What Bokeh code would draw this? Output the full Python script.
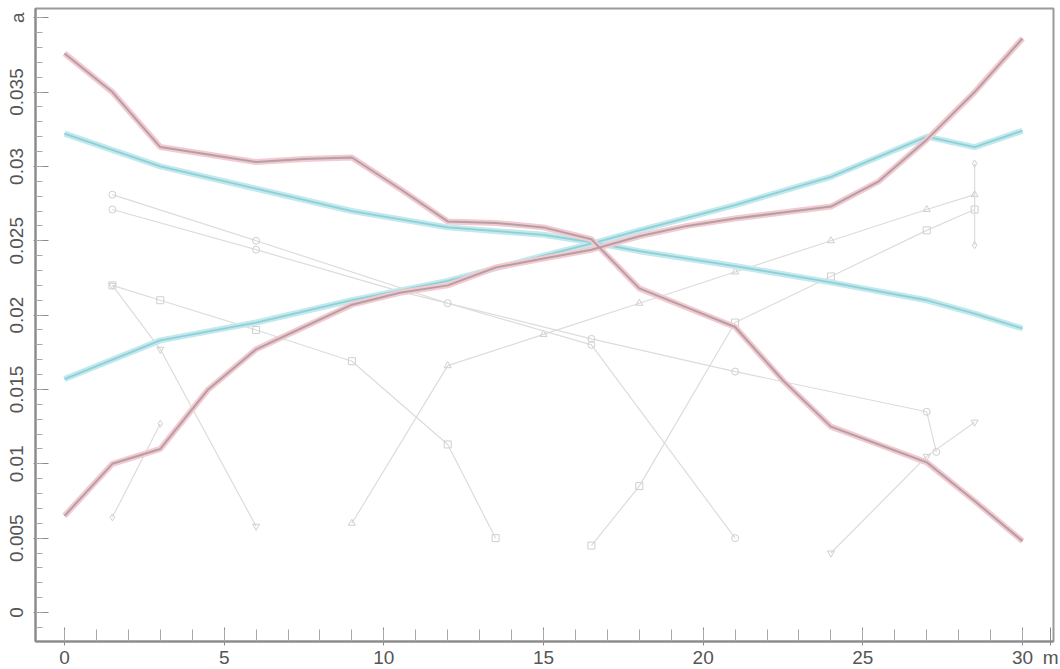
from bokeh.plotting import figure
from bokeh.models import Range1d, SingleIntervalTicker, FixedTicker, CustomJSTickFormatter
from bokeh.embed import file_html
from bokeh.resources import INLINE

# ---- data ----
x_pos = [0, 1.5, 3, 4.5, 6, 7.5, 9, 10.5, 12, 13.5, 15, 16.5, 18, 19.5, 21, 22.5, 24, 25.5, 27, 28.5, 30]

red_down = [0.0376, 0.0350, 0.0313, 0.0308, 0.0303, 0.0305, 0.0306, 0.0285, 0.0263, 0.0262, 0.0259,
            0.0251, 0.0218, 0.0205, 0.0192, 0.0156, 0.0125, 0.0113, 0.0101, 0.0075, 0.0048]
red_up = [0.0065, 0.0100, 0.0110, 0.0150, 0.0177, 0.0192, 0.0207, 0.0215, 0.0220, 0.0232, 0.0238,
          0.0244, 0.0253, 0.0260, 0.0265, 0.0269, 0.0273, 0.0290, 0.0318, 0.0350, 0.0386]

cyan_x = [0, 3, 6, 9, 12, 15, 16.5, 18, 21, 24, 27, 28.5, 30]
cyan_down = [0.0322, 0.0300, 0.0285, 0.0270, 0.0259, 0.0254, 0.0249, 0.0243, 0.0233, 0.0222, 0.0210, 0.0201, 0.0191]
cyan_up = [0.0157, 0.0183, 0.0195, 0.0210, 0.0223, 0.0240, 0.0248, 0.0257, 0.0274, 0.0293, 0.0320, 0.0313, 0.0324]

g1_x = [1.5, 6, 10.5, 16.5, 21, 27, 27.3]
g1_y = [0.0271, 0.0244, 0.0216, 0.0184, 0.0162, 0.0135, 0.0108]
g2_x = [1.5, 3, 6, 9, 12, 13.5]
g2_y = [0.0220, 0.0210, 0.0190, 0.0169, 0.0113, 0.0050]
g3_x = [1.5, 3, 6]
g3_y = [0.0220, 0.0177, 0.0058]
g4_x = [1.5, 3]
g4_y = [0.0064, 0.0127]
g5_x = [9, 12, 15, 18, 21, 24, 27, 28.5]
g5_y = [0.0060, 0.0166, 0.0187, 0.0208, 0.0229, 0.0250, 0.0271, 0.0281]
g6_x = [16.5, 18, 21, 24, 27, 28.5]
g6_y = [0.0045, 0.0085, 0.0195, 0.0226, 0.0257, 0.0271]
g7_x = [1.5, 6, 12, 16.5, 21]
g7_y = [0.0281, 0.0250, 0.0208, 0.0180, 0.0050]
g8_x = [24, 27, 28.5]
g8_y = [0.0040, 0.0105, 0.0128]
g9_x = [28.5, 28.5]
g9_y = [0.0302, 0.0247]

gray_series = [(g1_x, g1_y, "circle"), (g2_x, g2_y, "square"), (g3_x, g3_y, "inverted_triangle"),
               (g4_x, g4_y, "diamond"), (g5_x, g5_y, "triangle"), (g6_x, g6_y, "square"),
               (g7_x, g7_y, "circle"), (g8_x, g8_y, "inverted_triangle"), (g9_x, g9_y, "diamond")]

# tick positions; the last x tick carries the unit "m", the 0.04 y tick carries the unit "a"
x_major_ticks = [0, 5, 10, 15, 20, 25, 30, 30.88]
x_minor_ticks = list(range(0, 31))
x_unit = "m"
y_unit = "a"
y_ticks_interval = 0.005

FONT = "Liberation Sans"

p = figure(frame_width=1018, frame_height=633,
           x_range=Range1d(-0.908, 30.97), y_range=Range1d(-0.00195, 0.04062),
           output_backend="svg", toolbar_location=None,
           min_border_left=35, min_border_right=7, min_border_top=8, min_border_bottom=26,
           background_fill_color="white", border_fill_color="white")

p.xgrid.visible = False
p.ygrid.visible = False
p.outline_line_color = "#9a9a9a"
p.outline_line_width = 2

# gray load-case lines
for gx, gy, mk in gray_series:
    p.line(gx, gy, line_color="#dcdcdc", line_width=1.2)
    p.scatter(gx, gy, marker=mk, size=7, line_color="#cfcfcf", fill_color=None, line_width=1)

# envelope lines
p.line(cyan_x, cyan_down, line_color="#c2e9ed", line_width=6)
p.line(cyan_x, cyan_up, line_color="#c2e9ed", line_width=6)
p.line(cyan_x, cyan_down, line_color="#8fcfd6", line_width=1.8)
p.line(cyan_x, cyan_up, line_color="#8fcfd6", line_width=1.8)

p.line(x_pos, red_down, line_color="#f3cad1", line_width=6)
p.line(x_pos, red_up, line_color="#f3cad1", line_width=6)
p.line(x_pos, red_down, line_color="#b59fa3", line_width=2)
p.line(x_pos, red_up, line_color="#b59fa3", line_width=2)

# axes
xa = p.xaxis[0]
xa.ticker = FixedTicker(ticks=x_major_ticks, minor_ticks=x_minor_ticks)
xa.formatter = CustomJSTickFormatter(args=dict(unit=x_unit),
                                     code="return tick > 30.5 ? unit : String(Math.round(tick));")
xa.axis_line_color = "#8a8a8a"
xa.axis_line_width = 2
xa.major_tick_line_color = "#8a8a8a"
xa.major_tick_in = 14
xa.major_tick_out = 4
xa.minor_tick_line_color = "#a8a8a8"
xa.minor_tick_in = 12
xa.minor_tick_out = 0
xa.major_label_standoff = 1
xa.major_label_text_font = FONT
xa.major_label_text_font_size = "19px"
xa.major_label_text_color = "#555555"

ya = p.yaxis[0]
ya.ticker = SingleIntervalTicker(interval=y_ticks_interval, num_minor_ticks=5)
ya.formatter = CustomJSTickFormatter(args=dict(unit=y_unit),
                                     code="return Math.abs(tick - 0.04) < 1e-9 ? unit : String(Number(tick.toFixed(4)));")
ya.axis_line_color = "#8a8a8a"
ya.axis_line_width = 2
ya.major_tick_line_color = "#8a8a8a"
ya.major_tick_in = 13
ya.major_tick_out = 2
ya.minor_tick_line_color = "#a8a8a8"
ya.minor_tick_in = 7
ya.minor_tick_out = 0
ya.major_label_orientation = "vertical"
ya.major_label_standoff = 6
ya.major_label_text_font = FONT
ya.major_label_text_font_size = "19px"
ya.major_label_text_color = "#555555"

open("out.html", "w").write(file_html(p, INLINE))
